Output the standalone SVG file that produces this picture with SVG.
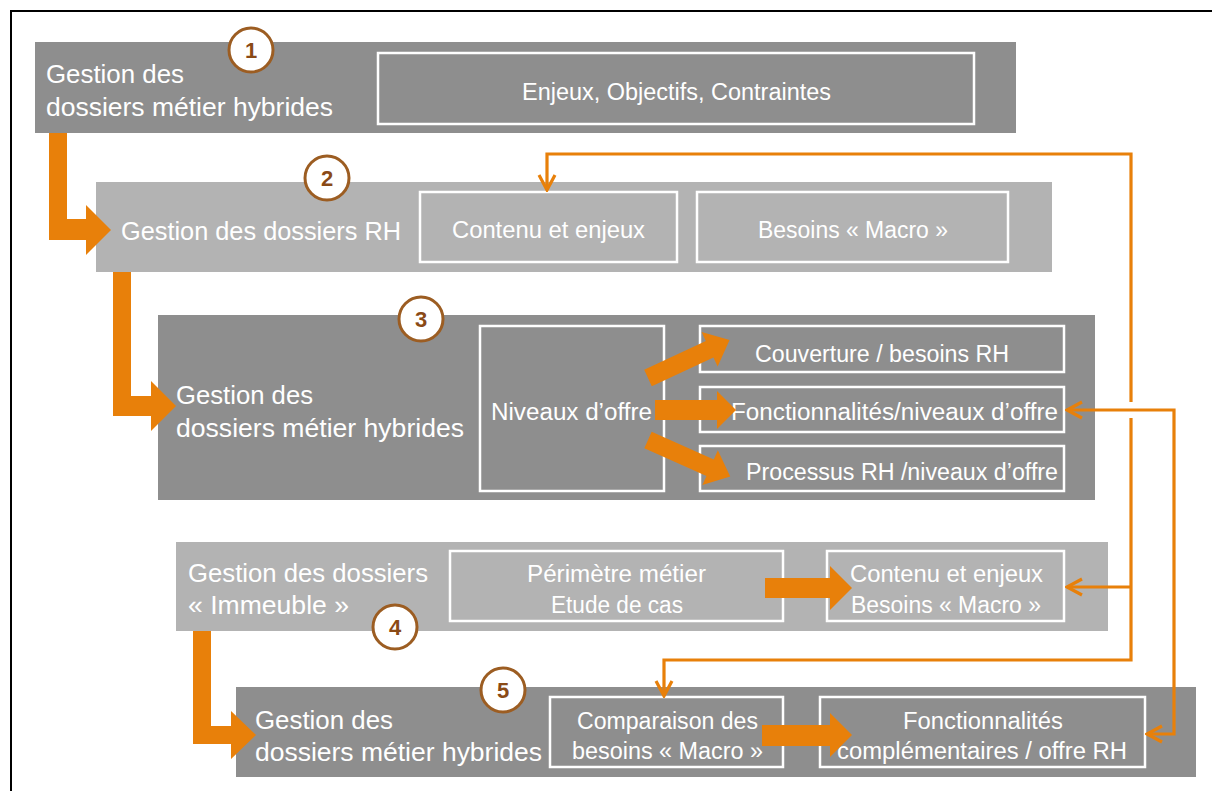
<svg xmlns="http://www.w3.org/2000/svg" width="1212" height="791" viewBox="0 0 1212 791">
<style>
.dark{fill:#8e8e8e}
.light{fill:#b3b3b3}
.inner{fill:none;stroke:#ffffff;stroke-width:2.5}
.lbl{font-family:"Liberation Sans",Arial,sans-serif;font-size:25px;fill:#ffffff}
.in{font-family:"Liberation Sans",Arial,sans-serif;font-size:23px;fill:#ffffff}
.mid{text-anchor:middle}
.num circle{fill:#ffffff;stroke:#9c5d22;stroke-width:3}
.num text{font-family:"Liberation Sans",Arial,sans-serif;font-size:22px;font-weight:bold;fill:#8a4a16;text-anchor:middle}
.thick{fill:#e8800a}
.thin{fill:none;stroke:#e8800a;stroke-width:3.2}
</style>
<defs>
<marker id="chev" viewBox="0 0 20 20" refX="18" refY="10" markerWidth="20" markerHeight="20" markerUnits="userSpaceOnUse" orient="auto-start-reverse">
<path d="M3,2 L18,10 L3,18" fill="none" stroke="#e8800a" stroke-width="3.2" stroke-linejoin="miter"/>
</marker>
</defs>
<g id="frame">
<path d="M11,791 V11 H1212" fill="none" stroke="#000000" stroke-width="2"/>
</g>
<g id="node1">
<rect class="dark" x="35" y="42" width="981" height="91"/>
<rect class="inner" x="378" y="53" width="596" height="71"/>
<text class="lbl" x="46" y="83" textLength="138" lengthAdjust="spacingAndGlyphs">Gestion des</text>
<text class="lbl" x="46" y="116" textLength="287" lengthAdjust="spacingAndGlyphs">dossiers métier hybrides</text>
<text class="in mid" x="676.5" y="100" textLength="309" lengthAdjust="spacingAndGlyphs">Enjeux, Objectifs, Contraintes</text>
<g class="num"><circle cx="251" cy="50" r="22"/><text x="251" y="58">1</text></g>
</g>
<g id="node2">
<rect class="light" x="96" y="182" width="956" height="90"/>
<rect class="inner" x="420" y="192" width="257" height="70"/>
<rect class="inner" x="697" y="192" width="311" height="70"/>
<text class="lbl" x="121" y="240" textLength="280" lengthAdjust="spacingAndGlyphs">Gestion des dossiers RH</text>
<text class="in mid" x="548.5" y="238" textLength="193" lengthAdjust="spacingAndGlyphs">Contenu et enjeux</text>
<text class="in mid" x="853" y="238" textLength="190" lengthAdjust="spacingAndGlyphs">Besoins « Macro »</text>
<g class="num"><circle cx="327" cy="178" r="22"/><text x="327" y="186">2</text></g>
</g>
<g id="node3">
<rect class="dark" x="158" y="315" width="937" height="185"/>
<rect class="inner" x="480" y="326" width="184" height="165"/>
<rect class="inner" x="700" y="326" width="364" height="46"/>
<rect class="inner" x="700" y="387" width="364" height="45"/>
<rect class="inner" x="700" y="446" width="364" height="45"/>
<text class="lbl" x="176" y="404" textLength="137" lengthAdjust="spacingAndGlyphs">Gestion des</text>
<text class="lbl" x="176" y="437" textLength="288" lengthAdjust="spacingAndGlyphs">dossiers métier hybrides</text>
<text class="in" x="491" y="420" textLength="161" lengthAdjust="spacingAndGlyphs">Niveaux d’offre</text>
<text class="in" x="755" y="362" textLength="254" lengthAdjust="spacingAndGlyphs">Couverture / besoins RH</text>
<text class="in" x="731" y="420" textLength="327" lengthAdjust="spacingAndGlyphs">Fonctionnalités/niveaux d’offre</text>
<text class="in" x="746" y="480" textLength="312" lengthAdjust="spacingAndGlyphs">Processus RH /niveaux d’offre</text>
<g class="num"><circle cx="421" cy="319" r="22"/><text x="421" y="327">3</text></g>
</g>
<g id="node4">
<rect class="light" x="176" y="542" width="932" height="89"/>
<rect class="inner" x="450" y="551" width="333" height="70"/>
<rect class="inner" x="827" y="551" width="237" height="70"/>
<text class="lbl" x="188" y="582" textLength="240" lengthAdjust="spacingAndGlyphs">Gestion des dossiers</text>
<text class="lbl" x="188" y="614" textLength="161" lengthAdjust="spacingAndGlyphs">« Immeuble »</text>
<text class="in mid" x="616.5" y="582" textLength="179" lengthAdjust="spacingAndGlyphs">Périmètre métier</text>
<text class="in mid" x="617" y="613" textLength="132" lengthAdjust="spacingAndGlyphs">Etude de cas</text>
<text class="in mid" x="946.5" y="582" textLength="193" lengthAdjust="spacingAndGlyphs">Contenu et enjeux</text>
<text class="in mid" x="946" y="613" textLength="190" lengthAdjust="spacingAndGlyphs">Besoins « Macro »</text>
<g class="num"><circle cx="395" cy="627" r="22"/><text x="395" y="635">4</text></g>
</g>
<g id="node5">
<rect class="dark" x="236" y="687" width="960" height="90"/>
<rect class="inner" x="550" y="697" width="233" height="70"/>
<rect class="inner" x="820" y="697" width="325" height="70"/>
<text class="lbl" x="255" y="729" textLength="138" lengthAdjust="spacingAndGlyphs">Gestion des</text>
<text class="lbl" x="255" y="761" textLength="287" lengthAdjust="spacingAndGlyphs">dossiers métier hybrides</text>
<text class="in mid" x="667.5" y="729" textLength="181" lengthAdjust="spacingAndGlyphs">Comparaison des</text>
<text class="in mid" x="667.5" y="759" textLength="191" lengthAdjust="spacingAndGlyphs">besoins « Macro »</text>
<text class="in mid" x="983" y="729" textLength="160" lengthAdjust="spacingAndGlyphs">Fonctionnalités</text>
<text class="in mid" x="982" y="759" textLength="290" lengthAdjust="spacingAndGlyphs">complémentaires / offre RH</text>
<g class="num"><circle cx="503" cy="690" r="22"/><text x="503" y="698">5</text></g>
</g>
<g id="connectors">
<polygon class="thick" points="49,133 67,133 67,219 86,219 86,205 111,230 86,255 86,240 49,240"/>
<polygon class="thick" points="113,272 131,272 131,396 151,396 151,381 176,406 151,431 151,416 113,416"/>
<polygon class="thick" points="193,631 211,631 211,726 231,726 231,711 256,735 231,759 231,744 193,744"/>
<polygon class="thick" points="0,-9 68,-9 68,-19 90,0 68,19 68,9 0,9" transform="translate(648,378) rotate(-25)"/>
<polygon class="thick" points="655,400 717,400 717,391 736,410 717,429 717,420 655,420"/>
<polygon class="thick" points="0,-9 68,-9 68,-19 90,0 68,19 68,9 0,9" transform="translate(648,440) rotate(24)"/>
<polygon class="thick" points="765,578 830,578 830,566 852,588 830,610 830,598 765,598"/>
<polygon class="thick" points="762,725 830,725 830,713 852,735 830,757 830,746 762,746"/>
<path class="thin" d="M1131,402 V154 H547 V190" marker-end="url(#chev)"/>
<path class="thin" d="M1131,418 V660 H664 V696" marker-end="url(#chev)"/>
<path class="thin" d="M1131,587 H1067" marker-end="url(#chev)"/>
<path class="thin" d="M1067,410 H1174 V734 H1147" marker-start="url(#chev)" marker-end="url(#chev)"/>
</g>
</svg>
